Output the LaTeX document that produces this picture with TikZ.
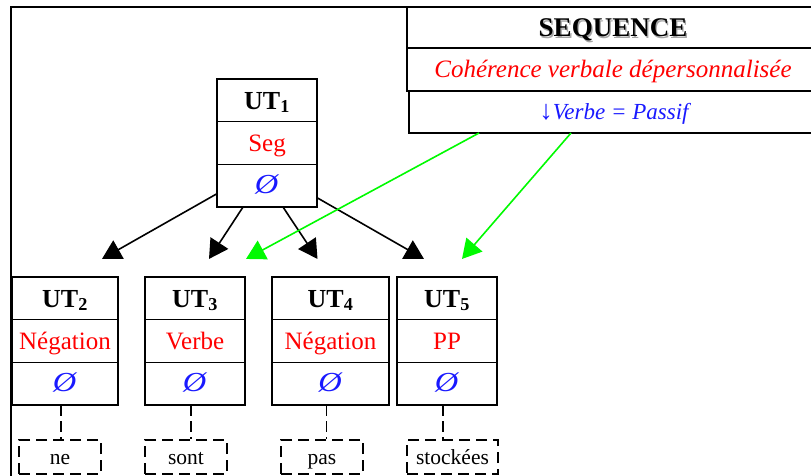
\documentclass[tikz,border=0pt]{standalone}
\usepackage{fontspec}
\setmainfont{Liberation Serif}
\usetikzlibrary{arrows.meta,positioning}

\definecolor{catred}{RGB}{255,0,0}
\definecolor{featblue}{RGB}{25,25,255}
\definecolor{linkgreen}{RGB}{0,250,0}

% bold title with a soft grey shadow
\newcommand\shadowtxt[1]{\rlap{\hspace{1.4pt}\raisebox{-1.4pt}{\color{black!35}#1}}#1}
\newcommand\vide{\scalebox{1.3}[1.1]{\textit{Ø}}}

\tikzset{
  cell/.style={draw, line width=1.5pt, minimum height=42.7pt, inner sep=0pt, outer sep=0pt,
    text height=16.5pt, text depth=0pt, font=\fontsize{25}{28}\selectfont},
  head/.style={cell, text height=17.5pt, font=\fontsize{26}{28}\selectfont\bfseries},
  cat/.style={cell, text=catred},
  feat/.style={cell, text=featblue},
  word/.style={draw, line width=1.4pt, dash pattern=on 11pt off 6pt, minimum height=34pt,
    inner sep=0pt, text height=14pt, text depth=0pt, font=\fontsize{21.5}{24}\selectfont},
  anchorline/.style={line width=1.4pt, dash pattern=on 11pt off 5pt},
  tree/.style={line width=1.6pt, -{Triangle[length=19pt,width=21pt]}},
  constraint/.style={tree, color=linkgreen}
}

\begin{document}
\begin{tikzpicture}[x=1pt,y=-1pt]
  \useasboundingbox (0,0) rectangle (811,476);

  % frame
  \draw[line width=1.5pt] (11,490) -- (11,7) -- (830,7);

  % sequence
  \node[cell, minimum width=412pt, minimum height=41pt, text height=18.5pt,
    font=\fontsize{27}{30}\selectfont\bfseries] (seq) at (613,27.5) {\shadowtxt{SEQUENCE}};
  \node[cat, minimum width=412pt, minimum height=43pt, font=\fontsize{25}{28}\selectfont\itshape,
    below=0pt of seq] (seqcat) {Cohérence verbale dépersonnalisée};
  \node[feat, minimum width=410pt, minimum height=42pt, text height=15pt,
    font=\fontsize{23}{26}\selectfont\itshape, below=0pt of seqcat, xshift=1pt]
    (seqfeat) {{\fontsize{27}{28}\selectfont↓}Verbe = Passif};

  % root
  \node[head, minimum width=100pt] (ut1) at (267,100.3) {UT\textsubscript{1}};
  \node[cat, minimum width=100pt, below=0pt of ut1] (cat1) {Seg};
  \node[feat, minimum width=100pt, below=0pt of cat1] (feat1) {\vide};

  % children and their words
  \foreach \i/\x/\w/\c/\m/\mx/\mw in {2/65/106/Négation/ne/60/82,
      3/195/100/Verbe/sont/186/82,
      4/330.5/117/Négation/pas/322/82,
      5/447/100/PP/stockées/452.5/91} {
    \node[head, minimum width=\w pt] (ut\i) at (\x,298.3) {UT\textsubscript{\i}};
    \node[cat, minimum width=\w pt, below=0pt of ut\i] (cat\i) {\c};
    \node[feat, minimum width=\w pt, below=0pt of cat\i] (feat\i) {\vide};
    \node[word, minimum width=\mw pt] (mot\i) at (\mx,457) {\m};
    \draw[anchorline] ([xshift=-4pt]feat\i.south) -- ([xshift=-4pt]feat\i.south |- mot\i.north);
  }

  \draw[tree] ([yshift=-8pt]feat1.west) -- ([xshift=37pt,yshift=18pt]ut2.north);
  \draw[tree] ([xshift=-24pt]feat1.south) -- ([xshift=14pt,yshift=18pt]ut3.north);
  \draw[tree] ([xshift=16pt]feat1.south) -- ([xshift=-13pt,yshift=18pt]ut4.north);
  \draw[tree] ([yshift=-12pt]feat1.east) -- ([xshift=-23pt,yshift=18pt]ut5.north);

  \draw[constraint] ([xshift=-135pt]seqfeat.south) -- ([xshift=51pt,yshift=18pt]ut3.north);
  \draw[constraint] ([xshift=-43pt]seqfeat.south) -- ([xshift=15pt,yshift=18pt]ut5.north);
\end{tikzpicture}
\end{document}
